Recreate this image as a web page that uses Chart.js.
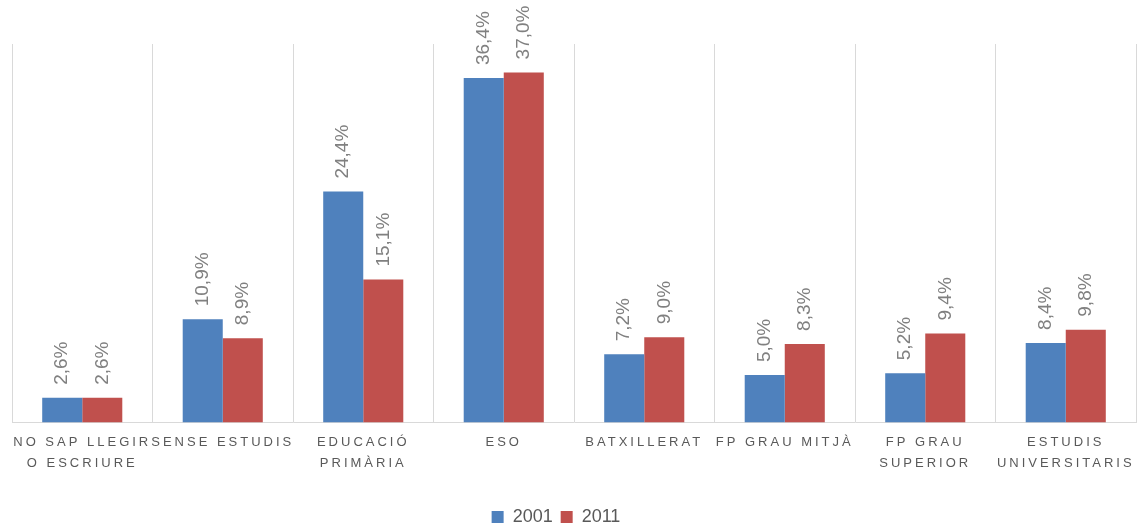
<!DOCTYPE html>
<html>
<head>
<meta charset="utf-8">
<script src="https://cdn.jsdelivr.net/npm/chart.js@4"></script>
<style>
  html, body { margin: 0; padding: 0; background: #fff; }
  #wrap { width: 1142px; height: 528px; position: relative; }
</style>
</head>
<body>
<div id="wrap"><canvas id="chart"></canvas></div>
<script>
// ---- Data ----
const categories = [
  ['NO SAP LLEGIR', 'O ESCRIURE'],
  'SENSE ESTUDIS',
  ['EDUCACIÓ', 'PRIMÀRIA'],
  'ESO',
  'BATXILLERAT',
  'FP GRAU MITJÀ',
  ['FP GRAU', 'SUPERIOR'],
  ['ESTUDIS', 'UNIVERSITARIS']
];
const seriesNames = ['2001', '2011'];
const values2001 = [2.6, 10.9, 24.4, 36.4, 7.2, 5.0, 5.2, 8.4];
const values2011 = [2.6, 8.9, 15.1, 37.0, 9.0, 8.3, 9.4, 9.8];

const fmt = v => v.toFixed(1).replace('.', ',') + '%';

// rotated value labels above each bar
const barLabels = {
  id: 'barLabels',
  afterDatasetsDraw(chart) {
    const ctx = chart.ctx;
    ctx.save();
    ctx.font = '19px "Liberation Sans", "DejaVu Sans", sans-serif';
    ctx.fillStyle = '#808080';
    ctx.textAlign = 'left';
    ctx.textBaseline = 'middle';
    chart.data.datasets.forEach((ds, i) => {
      chart.getDatasetMeta(i).data.forEach((bar, j) => {
        ctx.save();
        ctx.translate(bar.x, bar.y - 13);
        ctx.rotate(-Math.PI / 2);
        ctx.fillText(fmt(ds.data[j]), 0, 0);
        ctx.restore();
      });
    });
    ctx.restore();
  }
};

// letter-spaced category labels
const spacedTicks = {
  id: 'spacedTicks',
  beforeDraw(chart) {
    const xs = chart.scales.x;
    if (xs._spaced) return;
    const orig = xs.drawLabels.bind(xs);
    xs.drawLabels = function (area) {
      const ctx = this.ctx;
      ctx.save();
      ctx.letterSpacing = '3px';
      orig(area);
      ctx.restore();
    };
    xs._spaced = true;
  }
};

// legend sits a little left of the plot centre
const legendShift = {
  id: 'legendShift',
  afterLayout(chart) {
    if (chart.legend) chart.legend.left -= 36;
  }
};

new Chart(document.getElementById('chart'), {
  type: 'bar',
  data: {
    labels: categories,
    datasets: [
      {
        label: seriesNames[0],
        data: values2001,
        backgroundColor: '#4f81bd',
        categoryPercentage: 0.57,
        barPercentage: 1.0
      },
      {
        label: seriesNames[1],
        data: values2011,
        backgroundColor: '#c0504d',
        categoryPercentage: 0.57,
        barPercentage: 1.0
      }
    ]
  },
  options: {
    responsive: true,
    maintainAspectRatio: false,
    animation: false,
    layout: { padding: { left: 12, right: 6, top: 44, bottom: -8 } },
    plugins: {
      legend: {
        position: 'bottom',
        labels: {
          boxWidth: 12,
          boxHeight: 12,
          padding: 8,
          color: '#595959',
          font: { family: '"Liberation Sans", "DejaVu Sans", sans-serif', size: 18 }
        }
      },
      tooltip: { enabled: false }
    },
    scales: {
      x: {
        grid: { color: '#d9d9d9', offset: true, drawTicks: false },
        border: { color: '#d9d9d9' },
        ticks: {
          color: '#595959',
          autoSkip: false,
          maxRotation: 0,
          padding: 10,
          font: { family: '"Liberation Sans", "DejaVu Sans", sans-serif', size: 13, lineHeight: 1.6 }
        },
        afterFit(scale) { scale.height += 16; }
      },
      y: {
        display: false,
        min: 0,
        max: 40
      }
    }
  },
  plugins: [barLabels, spacedTicks, legendShift]
});
</script>
</body>
</html>
